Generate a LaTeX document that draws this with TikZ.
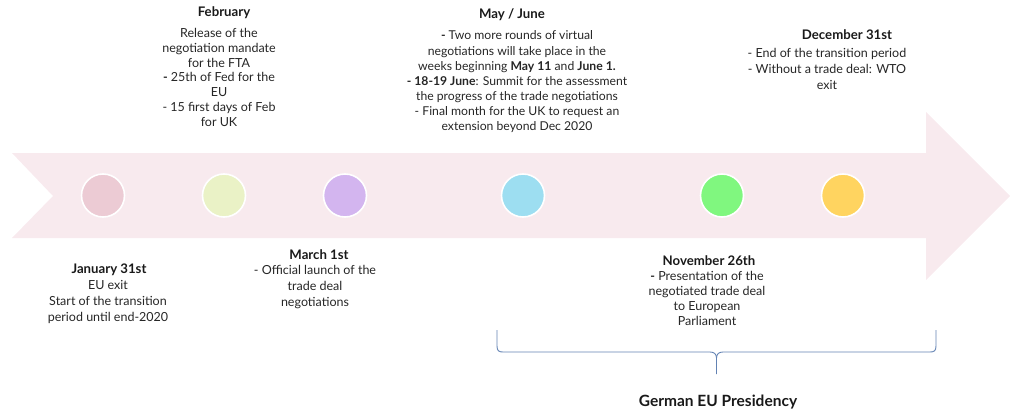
\documentclass[tikz,border=0pt]{standalone}
\usepackage{fontspec}
\setmainfont{Lato}
\usepackage{tikz}

\definecolor{band}{HTML}{F8EAEE}
\definecolor{bracecol}{HTML}{6282B3}
\definecolor{txt}{HTML}{262626}

\begin{document}
\begin{tikzpicture}[x=1pt,y=-1pt,
    dot/.style={circle,draw=white,line width=1.6pt,minimum size=43pt,inner sep=0pt},
    datetitle/.style={anchor=base,align=center,inner sep=0pt,text=black!90,font=\fontsize{13.2}{15}\selectfont\bfseries},
    datetext/.style={anchor=base,align=center,inner sep=0pt,text=txt,font=\fontsize{12.5}{15}\selectfont},
    brace/.style={draw=bracecol,line width=0.9pt}]
      \useasboundingbox (0,0) rectangle (1013,412);
      \fill[band] (12,153)--(926,153)--(926,112)--(1010,196)--(926,280)--(926,238)--(12,238)--(53,196)--cycle;
      % milestones
      \node[dot,fill={rgb,255:red,236;green,203;blue,212}] (c1) at (103,195.5) {};
      \node[dot,fill={rgb,255:red,234;green,242;blue,198}] (c2) at (224,195.5) {};
      \node[dot,fill={rgb,255:red,211;green,181;blue,239}] (c3) at (345,195.5) {};
      \node[dot,fill={rgb,255:red,157;green,222;blue,241}] (c4) at (523,195.5) {};
      \node[dot,fill={rgb,255:red,128;green,247;blue,127}] (c5) at (722,195.5) {};
      \node[dot,fill={rgb,255:red,255;green,212;blue,96}] (c6) at (843,195.5) {};
      % above the arrow (base = last line)
      \node[datetitle] (febtitle) at (224,17) {February};
      \node[datetext] (febtext) at (219,127) {Release of the\\negotiation mandate\\for the FTA\\\textbf{-} 25th of Fed for the\\EU\\- 15 first days of Feb\\for UK};
      \node[datetitle] (maytitle) at (512,19) {May / June};
      \node[datetext,font=\fontsize{12.2}{15.2}\selectfont] (maytext) at (517,131) {\textbf{-} Two more rounds of virtual\\negotiations will take place in the\\weeks beginning \textbf{May 11} and \textbf{June 1.}\\\textbf{- 18-19 June}: Summit for the assessment\\the progress of the trade negotiations\\- Final month for the UK to request an\\extension beyond Dec 2020};
      \node[datetitle] (dectitle) at (847,40) {December 31st};
      \node[datetext,font=\fontsize{12.5}{16}\selectfont] (dectext) at (827,89) {- End of the transition period\\- Without a trade deal: WTO\\exit};
      % below the arrow
      \node[datetitle] (jantitle) at (109,273) {January 31st};
      \node[datetext,font=\fontsize{12.5}{16}\selectfont] (jantext) at (108,321) {EU exit\\Start of the transition\\period until end-2020};
      \node[datetitle] (martitle) at (319,259) {March 1st};
      \node[datetext,font=\fontsize{12.5}{16}\selectfont] (martext) at (315,306) {- Official launch of the\\trade deal\\negotiations};
      \node[datetitle] (novtitle) at (709,265) {November 26th};
      \node[datetext] (novtext) at (707,325) {\textbf{-} Presentation of the\\negotiated trade deal\\to European\\Parliament};
      % presidency
      \coordinate (bl) at (497,330);
      \coordinate (br) at (936,330);
      \coordinate (bm) at (716.5,374);
      \draw[brace] (bl)--(497,346) .. controls (497,351) and (499,352) .. (503,352)--(710,352) .. controls (714,352) and (716.5,354) .. (716.5,358)--(bm);
      \draw[brace] (br)--(936,346) .. controls (936,351) and (934,352) .. (930,352)--(723,352) .. controls (719,352) and (716.5,354) .. (716.5,358);
      \node[datetitle,font=\fontsize{15.5}{16}\selectfont\bfseries] (pres) at (718,406) {German EU Presidency};
    \end{tikzpicture}
\end{document}
